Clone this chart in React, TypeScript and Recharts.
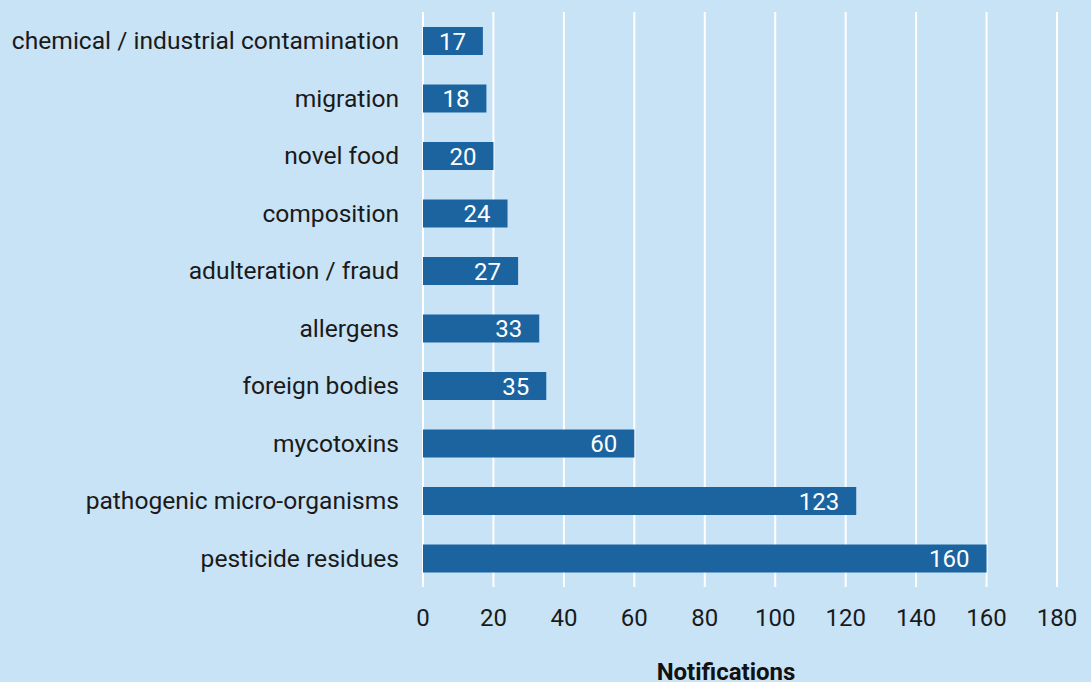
import { BarChart, Bar, XAxis, YAxis, CartesianGrid, LabelList, Label } from 'recharts';

// Categories and notification counts (top to bottom)
const categories = [
  'chemical / industrial contamination',
  'migration',
  'novel food',
  'composition',
  'adulteration / fraud',
  'allergens',
  'foreign bodies',
  'mycotoxins',
  'pathogenic micro-organisms',
  'pesticide residues',
];
const notifications = [17, 18, 20, 24, 27, 33, 35, 60, 123, 160];
const xTicks = [0, 20, 40, 60, 80, 100, 120, 140, 160, 180];

const BG = '#c8e2f6';
const BAR = '#1b64a0';
const FONT = 'Roboto, sans-serif';

const data = categories.map((name, i) => ({ name, value: notifications[i] }));

const App = () => {
  return (
    <div style={{ position: 'absolute', left: 0, top: 0, width: 1091, height: 682, background: BG, fontFamily: FONT }}>
      <BarChart
        width={1091}
        height={682}
        data={data}
        layout="vertical"
        margin={{ top: 12, right: 34, bottom: 0, left: 0 }}
      >
        <CartesianGrid horizontal={false} stroke="#ffffff" strokeWidth={2} />
        <XAxis
          type="number"
          domain={[0, 180]}
          ticks={xTicks}
          axisLine={false}
          tickLine={false}
          tickSize={0}
          tickMargin={22}
          height={95}
          tick={{ fill: '#1a1a1a', fontSize: 24, fontFamily: FONT }}
        >
          <Label
            value="Notifications"
            position="insideBottom"
            offset={2}
            dx={-14}
            style={{ fontWeight: 'bold', fontSize: 24, fill: '#111', fontFamily: FONT }}
          />
        </XAxis>
        <YAxis
          type="category"
          dataKey="name"
          width={423}
          axisLine={false}
          tickLine={false}
          tickSize={0}
          tickMargin={24}
          interval={0}
          tick={{ fill: '#1a1a1a', fontSize: 24.6, fontFamily: FONT }}
        />
        <Bar dataKey="value" fill={BAR} barSize={28} isAnimationActive={false}>
          <LabelList
            dataKey="value"
            position="insideRight"
            offset={17}
            style={{ fill: '#ffffff', fontSize: 24, fontFamily: FONT }}
          />
        </Bar>
      </BarChart>
    </div>
  );
};

export default App;
